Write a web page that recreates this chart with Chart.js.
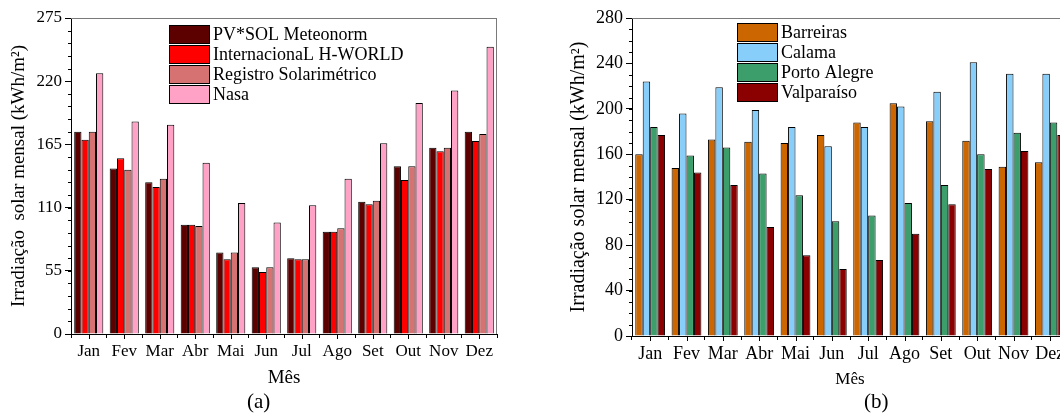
<!DOCTYPE html>
<html>
<head>
    <title>Irradiação solar mensal</title>
    <script src="https://cdn.jsdelivr.net/npm/chart.js"></script>
    <style>
        html, body { margin: 0; padding: 0; overflow: hidden; background: #fff; }
        body { width: 1060px; height: 414px; position: relative; }
        canvas { position: absolute; top: 0; }
        #chartA { left: 0; }
        #chartB { left: 540px; }
        .tag { position: absolute; top: 389px; font: 21px "Liberation Serif", "Times New Roman", serif; color: #000; }
    </style>
</head>
<body>
    <canvas id="chartA" width="540" height="414"></canvas>
    <canvas id="chartB" width="540" height="414"></canvas>
    <div class="tag" style="left:247px">(a)</div>
    <div class="tag" style="left:864px">(b)</div>

    <script>
        const months = ['Jan', 'Fev', 'Mar', 'Abr', 'Mai', 'Jun', 'Jul', 'Ago', 'Set', 'Out', 'Nov', 'Dez'];

        // (a) sources
        const pvsol    = [176, 144, 132, 95, 71, 58, 66, 89, 115, 146, 162, 176];
        const hworld   = [169, 153, 128, 95, 65, 54, 65, 89, 113, 134, 159, 168];
        const registro = [176, 143, 135, 94, 71, 58, 65, 92, 116, 146, 162, 174];
        const nasa     = [227, 185, 182, 149, 114, 97, 112, 135, 166, 201, 212, 250];

        // (b) cities
        const barreiras  = [160, 148, 173, 171, 170, 177, 188, 205, 189, 172, 149, 153];
        const calama     = [224, 196, 219, 199, 184, 167, 184, 202, 215, 241, 231, 231];
        const portoAlegre = [184, 159, 166, 143, 124, 101, 106, 117, 133, 160, 179, 188];
        const valparaiso = [177, 144, 133, 96, 71, 59, 67, 90, 116, 147, 163, 177];

        const serif = '"Liberation Serif", "Times New Roman", serif';
        Chart.defaults.color = '#000';
        Chart.defaults.font.family = serif;

        // frame, minor ticks and the legend drawn inside the plot
        const decor = {
            id: 'decor',
            afterDraw(chart, args, opts) {
                const ctx = chart.ctx;
                const a = chart.chartArea;
                const x = chart.scales.x, y = chart.scales.y;
                ctx.save();
                ctx.lineWidth = 1;
                ctx.strokeStyle = '#7a7a7a';
                ctx.beginPath();
                ctx.moveTo(a.left, a.top + 0.5); ctx.lineTo(a.right, a.top + 0.5);
                ctx.moveTo(a.right - 0.5, a.top); ctx.lineTo(a.right - 0.5, a.bottom);
                ctx.stroke();

                ctx.strokeStyle = '#000';
                ctx.beginPath();
                for (let v = y.min; v <= y.max; v += opts.minor) {
                    const py = Math.round(y.getPixelForValue(v)) + 0.5;
                    ctx.moveTo(a.left - 3, py); ctx.lineTo(a.left, py);
                }
                x.ticks.forEach((t, i) => {
                    const px = Math.round(x.getPixelForTick(i)) + 0.5;
                    ctx.moveTo(px, a.bottom); ctx.lineTo(px, a.bottom + 5);
                });
                ctx.stroke();

                ctx.font = opts.fontSize + 'px ' + serif;
                ctx.textBaseline = 'middle';
                ctx.fillStyle = '#000';
                chart.data.datasets.forEach((ds, i) => {
                    const ly = opts.y + i * 20;
                    ctx.fillStyle = ds.backgroundColor;
                    ctx.fillRect(opts.x, ly, 40, 18);
                    ctx.strokeRect(opts.x + 0.5, ly + 0.5, 40, 18);
                    ctx.fillStyle = '#000';
                    ctx.fillText(ds.label, opts.x + 44, ly + 10);
                });
                ctx.restore();
            }
        };

        function makeChart(id, datasets, cfg) {
            return new Chart(document.getElementById(id), {
                type: 'bar',
                data: {
                    labels: months,
                    datasets: datasets.map(d => ({
                        label: d[0],
                        data: d[1],
                        backgroundColor: d[2],
                        borderColor: '#000',
                        borderWidth: 1,
                        categoryPercentage: 0.82,
                        barPercentage: 1
                    }))
                },
                options: {
                    responsive: false,
                    animation: false,
                    devicePixelRatio: 1,
                    layout: { padding: { top: 18, right: cfg.padRight, left: 0, bottom: 0 } },
                    plugins: {
                        legend: { display: false },
                        tooltip: { enabled: false },
                        decor: cfg.legend
                    },
                    scales: {
                        x: {
                            afterFit: s => { s.height = cfg.xHeight; },
                            grid: { offset: true, drawOnChartArea: false, tickLength: 4, color: '#000' },
                            border: { color: '#000' },
                            ticks: { padding: 3, maxRotation: 0, autoSkip: false, font: { size: cfg.xFont } },
                            title: { display: true, text: 'Mês', font: { size: cfg.xTitleFont }, padding: { bottom: cfg.xTitlePad, top: 0 } }
                        },
                        y: {
                            min: 0,
                            max: cfg.yMax,
                            afterFit: s => { s.width = cfg.yWidth; },
                            grid: { drawOnChartArea: false, tickLength: 6, color: '#000' },
                            border: { color: '#000' },
                            ticks: { stepSize: cfg.yStep, padding: 3, font: { size: cfg.yFont } },
                            title: { display: true, text: cfg.yTitle, font: { size: cfg.yTitleFont }, padding: { top: cfg.yTitlePad, bottom: 0 } }
                        }
                    }
                },
                plugins: [decor]
            });
        }

        makeChart('chartA', [
            ['PV*SOL Meteonorm', pvsol, '#5c0000'],
            ['InternacionaL H-WORLD', hworld, '#ff0000'],
            ['Registro Solarimétrico', registro, '#d67272'],
            ['Nasa', nasa, '#ffa2c6']
        ], {
            padRight: 43, xHeight: 80, yWidth: 71, yMax: 275, yStep: 55,
            xFont: 17, yFont: 17, xTitleFont: 19, xTitlePad: 25,
            yTitle: 'Irradiação  solar mensal (kWh/m²)', yTitleFont: 19, yTitlePad: 8,
            legend: { x: 169, y: 25, fontSize: 18, minor: 11 }
        });

        makeChart('chartB', [
            ['Barreiras', barreiras, '#cc6600'],
            ['Calama', calama, '#87cefa'],
            ['Porto Alegre', portoAlegre, '#3b9e6b'],
            ['Valparaíso', valparaiso, '#8b0000']
        ], {
            padRight: 12, xHeight: 78, yWidth: 92, yMax: 280, yStep: 40,
            xFont: 18, yFont: 18, xTitleFont: 17, xTitlePad: 24,
            yTitle: 'Irradiação solar mensal (kWh/m²)', yTitleFont: 20, yTitlePad: 27,
            legend: { x: 197, y: 23, fontSize: 18, minor: 10 }
        });
    </script>
</body>
</html>
